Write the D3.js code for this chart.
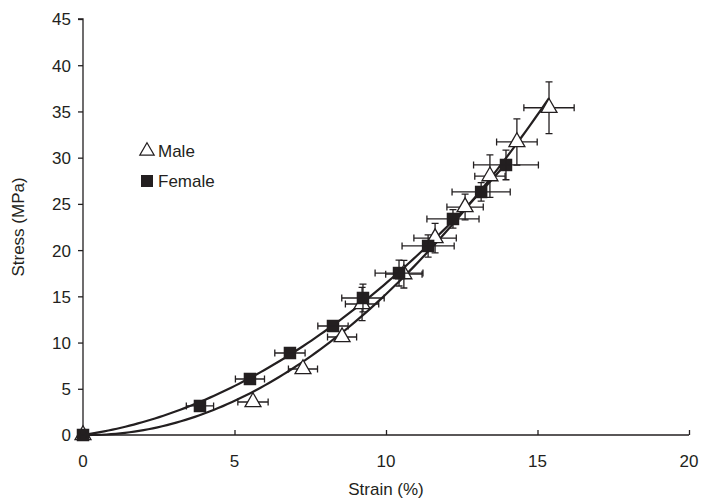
<!DOCTYPE html>
<html>
<head>
<meta charset="utf-8">
<script src="https://cdn.jsdelivr.net/npm/d3@7"></script>
<style>
  html, body { margin: 0; padding: 0; background: #fff; }
  svg { display: block; }
  text { font-family: "Liberation Sans", Arial, Helvetica, sans-serif; fill: #231f20; }
</style>
</head>
<body>
<svg id="chart" width="706" height="501"></svg>
<script>
// ---- data ----
const maleStrain    = [0, 5.61, 7.26, 8.55, 9.21, 10.59, 11.62, 12.61, 13.43, 14.32, 15.38];
const maleStress    = [0, 3.57, 7.14, 10.6, 14.17, 17.4, 21.3, 24.66, 28.0, 31.7, 35.4];
const maleStrainErr = [0.1, 0.5, 0.48, 0.48, 0.55, 0.6, 0.7, 0.6, 0.5, 0.67, 0.83];
const maleStressErr = [0, 0.3, 0.3, 0.4, 1.8, 1.5, 1.6, 1.4, 2.3, 2.5, 2.8];

const femaleStrain    = [0, 3.86, 5.51, 6.83, 8.25, 9.24, 10.43, 11.39, 12.21, 13.14, 13.96];
const femaleStress    = [0, 3.14, 6.06, 8.87, 11.79, 14.82, 17.52, 20.45, 23.37, 26.29, 29.21];
const femaleStrainErr = [0.1, 0.45, 0.48, 0.5, 0.5, 0.7, 0.79, 0.86, 0.86, 0.96, 1.07];
const femaleStressErr = [0, 0.2, 0.2, 0.3, 0.3, 1.5, 1.4, 1.2, 1.0, 1.0, 1.6];

const xTicks = [0, 5, 10, 15, 20];
const yTicks = [0, 5, 10, 15, 20, 25, 30, 35, 40, 45];
const legendLabels = ["Male", "Female"];

// ---- layout ----
const svg = d3.select("#chart");
const x = d3.scaleLinear().domain([0, 20]).range([83, 689]);
const y = d3.scaleLinear().domain([0, 45]).range([435, 19]);
const ink = "#231f20";

// axes
const yAxis = d3.axisLeft(y).tickValues(yTicks).tickSize(5).tickPadding(7).tickFormat(d3.format("d"));
const xAxis = d3.axisTop(x).tickValues(xTicks).tickSize(5).tickFormat("");

const gy = svg.append("g").attr("transform", `translate(${x(0)},0)`).call(yAxis);
gy.select(".domain").attr("stroke", ink).attr("stroke-width", 1.3).attr("d", `M-5,${y(45)}H0V${y(0)}`);
gy.selectAll(".tick line").attr("stroke", ink).attr("stroke-width", 1.3);
gy.selectAll(".tick text").attr("font-size", 17).attr("font-family", "Liberation Sans, Arial, sans-serif").attr("fill", ink).attr("dy", "0.35em");

const gx = svg.append("g").attr("transform", `translate(0,${y(0)})`).call(xAxis);
gx.select(".domain").attr("stroke", ink).attr("stroke-width", 1.3).attr("d", `M${x(0)},0H${x(20)}`);
gx.selectAll(".tick line").attr("stroke", ink).attr("stroke-width", 1.3);
gx.selectAll(".xl").data(xTicks).enter().append("text")
  .attr("x", d => x(d)).attr("y", 32).attr("text-anchor", "middle")
  .attr("font-size", 17).text(d => d);

// axis titles
svg.append("text").attr("x", (x(0) + x(20)) / 2).attr("y", 495).attr("text-anchor", "middle")
  .attr("font-size", 17).text("Strain (%)");
svg.append("text").attr("transform", `translate(24,${(y(0) + y(45)) / 2}) rotate(-90)`)
  .attr("text-anchor", "middle").attr("font-size", 17).text("Stress (MPa)");

// ---- least-squares quadratic trendline through origin: s = a e + b e^2 ----
function fitQuad(xs, ys) {
  let s2 = 0, s3 = 0, s4 = 0, sxy = 0, sx2y = 0;
  xs.forEach((xv, i) => {
    const yv = ys[i];
    s2 += xv * xv; s3 += xv ** 3; s4 += xv ** 4;
    sxy += xv * yv; sx2y += xv * xv * yv;
  });
  const det = s2 * s4 - s3 * s3;
  const a = (sxy * s4 - s3 * sx2y) / det;
  const b = (s2 * sx2y - s3 * sxy) / det;
  return e => a * e + b * e * e;
}
function trendPoints(xs, ys) {
  const f = fitQuad(xs, ys);
  const xmax = d3.max(xs);
  return d3.range(0, xmax + 1e-9, xmax / 100).map(e => [e, f(e)]);
}
const line = d3.line().x(d => x(d[0])).y(d => y(d[1])).curve(d3.curveLinear);

const plot = svg.append("g");
plot.append("path").datum(trendPoints(maleStrain, maleStress))
  .attr("d", line).attr("fill", "none").attr("stroke", ink).attr("stroke-width", 2.2);
plot.append("path").datum(trendPoints(femaleStrain, femaleStress))
  .attr("d", line).attr("fill", "none").attr("stroke", ink).attr("stroke-width", 2.2);

// ---- error bars + markers ----
function series(xs, ys, xe, ye) {
  return xs.map((v, i) => ({ x: v, y: ys[i], xe: xe[i], ye: ye[i] }));
}
const male = series(maleStrain, maleStress, maleStrainErr, maleStressErr);
const female = series(femaleStrain, femaleStress, femaleStrainErr, femaleStressErr);
const cap = 3.5;

function errorBars(g, data) {
  const eb = g.append("g").attr("stroke", ink).attr("stroke-width", 1.3).attr("fill", "none");
  data.forEach(d => {
    const cx = x(d.x), cy = y(d.y);
    const x0 = x(d.x - d.xe), x1 = x(d.x + d.xe);
    const y0 = y(d.y - d.ye), y1 = y(d.y + d.ye);
    eb.append("path").attr("d",
      `M${x0},${cy}H${x1}M${x0},${cy - cap}V${cy + cap}M${x1},${cy - cap}V${cy + cap}` +
      (d.ye > 0.5 ? `M${cx},${y0}V${y1}M${cx - cap},${y0}H${cx + cap}M${cx - cap},${y1}H${cx + cap}` : ""));
  });
}

const tri = d3.symbol().type(d3.symbolTriangle).size(110);
const sq = 12.5;

errorBars(plot, male);
plot.selectAll(".m").data(male).enter().append("path")
  .attr("d", tri).attr("transform", d => `translate(${x(d.x)},${y(d.y)})`)
  .attr("fill", "#fff").attr("stroke", ink).attr("stroke-width", 1.3);

plot.selectAll(".f").data(female).enter().append("rect")
  .attr("x", d => x(d.x) - sq / 2).attr("y", d => y(d.y) - sq / 2)
  .attr("width", sq).attr("height", sq).attr("fill", ink);
errorBars(plot, female);

// ---- legend ----
const lg = svg.append("g");
lg.append("path").attr("d", d3.symbol().type(d3.symbolTriangle).size(90))
  .attr("transform", "translate(147,151)").attr("fill", "#fff").attr("stroke", ink).attr("stroke-width", 1.2);
lg.append("rect").attr("x", 141).attr("y", 175).attr("width", 12).attr("height", 12).attr("fill", ink);
lg.append("text").attr("x", 158).attr("y", 157).attr("font-size", 17).text(legendLabels[0]);
lg.append("text").attr("x", 158).attr("y", 187).attr("font-size", 17).text(legendLabels[1]);
</script>
</body>
</html>
